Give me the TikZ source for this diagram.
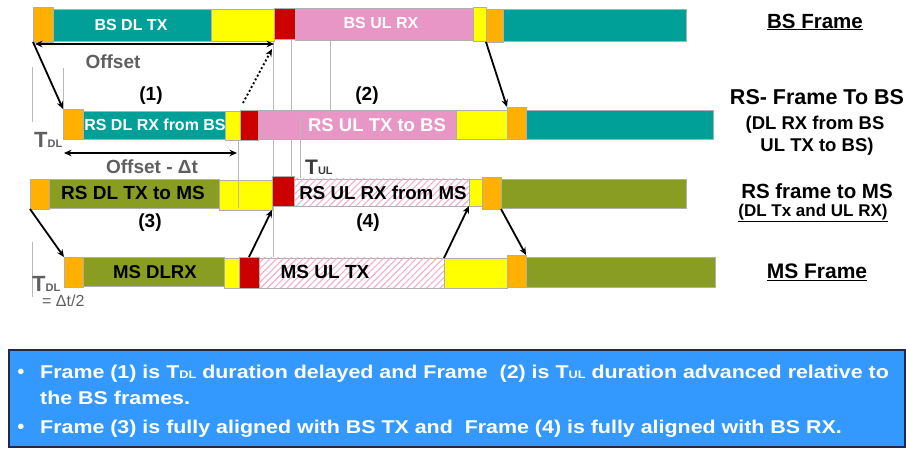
\documentclass[tikz,border=0pt]{standalone}
\usepackage{fontspec}
\setmainfont{Liberation Sans}
\usetikzlibrary{arrows.meta,patterns.meta}
\definecolor{bsteal}{RGB}{0,160,152}
\definecolor{frorange}{RGB}{255,176,0}
\definecolor{fryellow}{RGB}{255,255,0}
\definecolor{frred}{RGB}{204,0,0}
\definecolor{frpink}{RGB}{231,150,198}
\definecolor{frolive}{RGB}{137,157,34}
\definecolor{hatchpink}{RGB}{240,170,205}
\definecolor{segline}{RGB}{175,175,175}
\definecolor{guidegray}{RGB}{185,185,185}
\definecolor{labgray}{RGB}{95,95,95}
\definecolor{tulgray}{RGB}{60,60,60}
\definecolor{infoblue}{RGB}{51,153,255}
\definecolor{infoborder}{RGB}{40,40,70}
\newcommand\seg[6]{%
  \node[segbox,#6,minimum width={(#4-#2)*1pt},minimum height={(#5-#3)*1pt}] (#1) at ({(#2+#4)/2},{(#3+#5)/2}) {};}
\newcommand\fsz[1]{\fontsize{#1}{#1}\selectfont}
\newcommand\wide[1]{\scalebox{1.157}[1]{#1}}
\begin{document}
\begin{tikzpicture}[x=1pt,y=-1pt,
  segbox/.style={draw=segline,line width=0.6pt,inner sep=0pt,outer sep=0pt,rectangle},
  hatchbox/.style={fill=white,postaction={pattern={Lines[angle=45,distance=4.7pt,line width=1pt]},pattern color=hatchpink}},
  guide/.style={draw=guidegray,line width=0.6pt},
  arr/.style={-{Stealth[length=7.5pt,width=6.5pt]},line width=1.8pt},
  dblarr/.style={{Stealth[length=7.5pt,width=6.5pt]}-{Stealth[length=7.5pt,width=6.5pt]},line width=1.8pt},
  dotarr/.style={-{Stealth[length=7.5pt,width=6.5pt]},line width=1.9pt,dash pattern=on 1.9pt off 2.4pt},
  wlab/.style={text=white,font=\bfseries\fsz{16},inner sep=0pt},
  blab/.style={text=black,font=\bfseries\fsz{19},inner sep=0pt},
  glab/.style={text=labgray,font=\bfseries\fsz{19},inner sep=0pt},
  numlab/.style={text=black,font=\bfseries\fsz{19},inner sep=0pt},
  rlab/.style={text=black,font=\bfseries\fsz{21},inner sep=0pt},
  rsub/.style={text=black,font=\bfseries\fsz{18.5},inner sep=0pt},
  infotext/.style={text=white,font=\bfseries\fsz{18.5},inner sep=0pt,anchor=base west},
]
\useasboundingbox (0,0) rectangle (906,449);

% guide lines (under bars)
\draw[guide] (32,67) -- (32,122);
\draw[guide] (63,68) -- (63,109);
\draw[guide] (273,40) -- (273,257);
\draw[guide] (291,40) -- (291,178);
\draw[guide] (330,40) -- (330,140);
\draw[guide] (32,242) -- (32,297);

% Row 1: BS frame
\seg{bo1}{33}{7}{53}{42}{fill=frorange}
\seg{bdl}{53}{9}{211}{41}{fill=bsteal}
\seg{by1}{211}{9}{274}{41}{fill=fryellow}
\seg{br1}{274}{8}{295}{39}{fill=frred}
\seg{bul}{295}{8}{473}{40}{fill=frpink}
\seg{bdl2}{503}{9}{686}{41}{fill=bsteal}
\seg{by2}{473}{7}{486}{41}{fill=fryellow}
\seg{bo2}{486}{9}{503}{42}{fill=frorange}

% Row 2: RS frame to BS
\seg{rdl}{83}{111}{225}{139}{fill=bsteal}
\seg{ro1}{63}{109}{83}{139}{fill=frorange}
\seg{ry1}{225}{111}{240}{140}{fill=fryellow}
\seg{rr1}{240}{110}{258}{140}{fill=frred}
\seg{rul}{258}{110}{456}{139}{fill=frpink}
\seg{ry2}{456}{110}{507}{139}{fill=fryellow}
\seg{rdl2}{526}{110}{713}{139}{fill=bsteal}
\seg{ro2}{507}{107}{526}{139}{fill=frorange}

% Row 3: RS frame to MS
\seg{mdl}{49}{179}{219}{208}{fill=frolive}
\seg{mo1}{30}{179}{49}{209}{fill=frorange}
\seg{my1}{219}{180}{272}{210}{fill=fryellow}
\seg{mr1}{272}{176}{294}{206}{fill=frred}
\seg{mul}{294}{179}{469}{206}{hatchbox}
\seg{my2}{469}{179}{482}{206}{fill=fryellow}
\seg{mdl2}{501}{179}{686}{208}{fill=frolive}
\seg{mo2}{482}{177}{501}{209}{fill=frorange}

% Row 4: MS frame
\seg{sdl}{83}{257}{224}{286}{fill=frolive}
\seg{so1}{64}{257}{83}{287}{fill=frorange}
\draw[guide] (259,288) -- (485,288);
\seg{sy1}{224}{258}{239}{288}{fill=fryellow}
\seg{sr1}{239}{257}{259}{288}{fill=frred}
\seg{sul}{259}{258}{444}{288}{hatchbox}
\seg{sy2}{444}{258}{507}{288}{fill=fryellow}
\seg{sdl2}{526}{257}{715}{287}{fill=frolive}
\seg{so2}{507}{255}{526}{287}{fill=frorange}

% guide lines drawn over bars
\draw[guide] (300,118) -- (300,178);
\draw[guide] (238,140) -- (238,208);

% box labels
\node[wlab] (tbsdl) at (131,25) {BS DL TX};
\node[wlab] (tbsul) at (381,23) {BS UL RX};
\node[wlab] (trsdl) at (155,125) {RS DL RX from BS};
\node[wlab,font=\bfseries\fsz{18.5}] (trsul) at (377,125) {RS UL TX to BS};
\node[blab] (tmsdl) at (133,193) {RS DL TX to MS};
\node[blab,font=\bfseries\fsz{18.7}] (tmsul) at (383,193) {RS UL RX from MS};
\node[blab,font=\bfseries\fsz{18.6}] (tssdl) at (155,272) {MS DLRX};
\node[blab] (tssul) at (325,272) {MS UL TX};

% frame numbers
\node[numlab] (n1) at (151,96) {(1)};
\node[numlab] (n2) at (367,96) {(2)};
\node[numlab] (n3) at (150,223) {(3)};
\node[numlab] (n4) at (368,223) {(4)};

% offset annotations
\coordinate (offL) at (35,44);
\coordinate (offR) at (274,44);
\draw[dblarr] (offL) -- (offR);
\node[glab] (toff) at (113,62) {Offset};
\coordinate (offdL) at (64,153);
\coordinate (offdR) at (237,153);
\draw[dblarr] (offdL) -- (offdR);
\node[glab] (toffd) at (152,167) {Offset - Δt};

% T labels
\node[text=labgray,inner sep=0pt,anchor=base west] (tdl1) at (34,148) {\bfseries\fsz{22}T\fsz{11}DL};
\node[text=tulgray,inner sep=0pt,anchor=base west] (tul) at (305,175) {\bfseries\fsz{21}T\fsz{11}UL};
\node[text=labgray,inner sep=0pt,anchor=base west] (tdl2) at (32,292) {\bfseries\fsz{22}T\fsz{11}DL};
\node[text=labgray,inner sep=0pt,anchor=base west] (tdt) at (42,307) {\fsz{16}= Δt/2};

% arrows
\draw[arr] (bo1.south west) -- (ro1.north west);
\coordinate (dotS) at (243,103);
\coordinate (dotE) at (272,49);
\draw[dotarr] (dotS) -- (dotE);
\draw[arr] (bo2.south west) -- (ro2.north west);
\draw[arr] (mo1.south west) -- (so1.north west);
\draw[arr] (sr1.north) -- (my1.south east);
\draw[arr] (sul.north east) -- (mul.south east);
\draw[arr] (mo2.south east) -- (so2.north east);

% right-hand labels
\node[rlab,font=\bfseries\fsz{20.5}] (lbs) at (815,22) {\underline{BS Frame}};
\node[rlab,font=\bfseries\fsz{21.5}] (lrs1) at (817,97) {RS- Frame To BS};
\node[rsub] (lrs2) at (815,125) {(DL RX from BS};
\node[rsub] (lrs3) at (817,147) {UL TX to BS)};
\node[rlab,font=\bfseries\fsz{20.5}] (lrm1) at (817,191) {RS frame to MS};
\node[rsub,font=\bfseries\fsz{17}] (lrm2) at (813,213) {\underline{(DL Tx and UL RX)}};
\node[rlab] (lms) at (817,272) {\underline{MS Frame}};

% info box
\node[draw=infoborder,fill=infoblue,line width=1.2pt,minimum width=896pt,minimum height=97pt,inner sep=0pt] (info) at (457,398.5) {};
\node[text=white,font=\fsz{14},inner sep=0pt] (b1) at (21,372) {$\bullet$};
\node[infotext] (i1) at (40,378) {\wide{Frame (1) is T{\fsz{11}DL} duration delayed and Frame\ \ (2) is T{\fsz{11}UL} duration advanced relative to}};
\node[infotext] (i2) at (40,405) {\wide{the BS frames.}};
\node[text=white,font=\fsz{14},inner sep=0pt] (b2) at (21,427) {$\bullet$};
\node[infotext] (i3) at (40,433) {\wide{Frame (3) is fully aligned with BS TX and\ \ Frame (4) is fully aligned with BS RX.}};
\end{tikzpicture}
\end{document}
